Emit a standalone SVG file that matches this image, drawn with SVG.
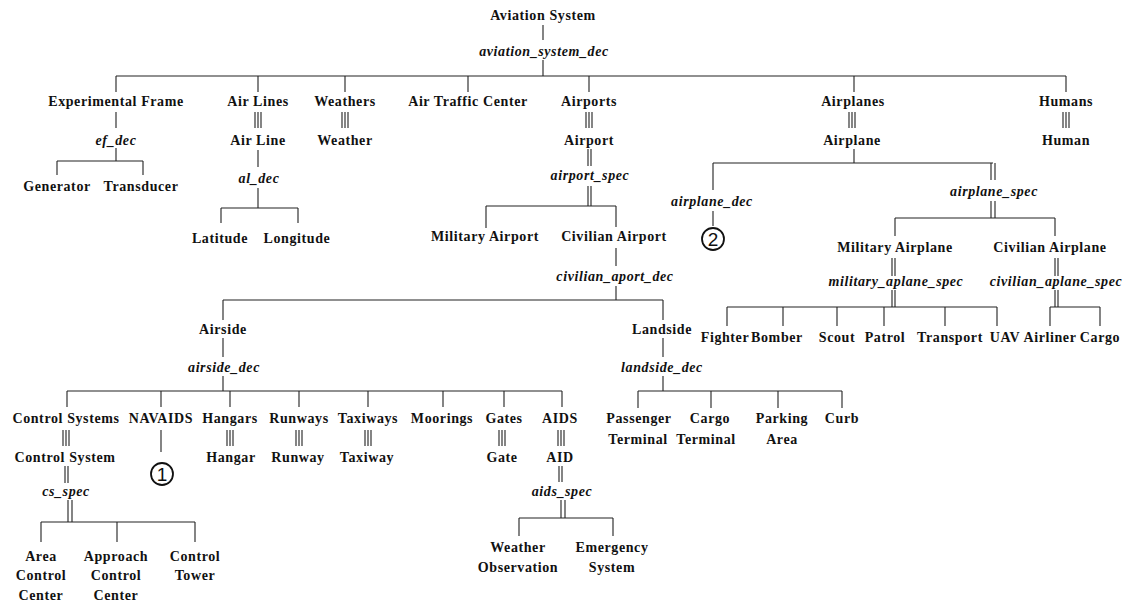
<svg xmlns="http://www.w3.org/2000/svg" width="1132" height="603" viewBox="0 0 1132 603">
<style>
.n{font-weight:bold;font-size:14px;letter-spacing:0.6px;text-anchor:middle;fill:#111}
.d{font-weight:bold;font-style:italic;font-size:14px;letter-spacing:0.6px;text-anchor:middle;fill:#111}
.c{fill:none;stroke:#111;stroke-width:1.8}
.cn{font-size:19px;text-anchor:middle;fill:#111}
#connectors path{fill:none;stroke:#222;stroke-width:1.1}
</style>
<rect width="1132" height="603" fill="#fff"/>
<g id="connectors">
<path d="M543,25V40M543,60V76M116,76H1066M116,76V92M258,76V92M345,76V92M468,76V92M589,76V92M854,76V92M1066,76V92"/>
<path d="M116,112V128M116,148V161M57,161H143M57,161V175M143,161V175"/>
<path d="M255,112V128M258,112V128M261,112V128M258,150V167M258,188V208M221,208H298M221,208V223M298,208V223"/>
<path d="M342,112V128M345,112V128M348,112V128"/>
<path d="M586,112V128M589,112V128M592,112V128M588,149V166M591,149V166M588,186V206M591,186V206M486,206H616M486,206V228M616,206V227"/>
<path d="M616,248V266M616,286V300M223,300H663M223,300V320M663,300V320"/>
<path d="M223,338V357M223,376V391M67,391H562M67,391V407M161,391V407M230,391V407M299,391V407M368,391V407M443,391V407M504,391V407M562,391V407"/>
<path d="M63,430V446M66,430V446M69,430V446M161,430V452"/>
<path d="M227,430V446M230,430V446M233,430V446M296,430V446M299,430V446M302,430V446M365,430V446M368,430V446M371,430V446M499,430V446M502,430V446M505,430V446M558,430V446M561,430V446M564,430V446"/>
<path d="M65,466V483M68,466V483M68,500V522M72,500V522M41,522H195M41,522V542M117,522V542M195,522V542"/>
<path d="M559,466V482M562,466V482M561,500V518M565,500V518M519,518H613M519,518V536M613,518V536"/>
<path d="M663,338V357M663,376V391M638,391H842M638,391V408M711,391V408M778,391V408M842,391V408"/>
<path d="M849,112V128M852,112V128M855,112V128M854,149V163M713,163H993M713,163V190M991,163V180M995,163V180M713,211V226"/>
<path d="M991,201V218M995,201V218M895,218H1055M895,218V236M1055,218V236"/>
<path d="M892,258V276M895,258V276M892,290V307M895,290V307M727,307H997M727,307V326M783,307V326M837,307V326M884,307V326M945,307V326M997,307V326"/>
<path d="M1055,258V276M1058,258V276M1055,290V307M1058,290V307M1050,307H1100M1050,307V326M1100,307V326"/>
<path d="M1063,112V128M1066,112V128M1069,112V128"/>
</g>
<g font-family="Liberation Serif, Times New Roman, serif">
<g id="aviation_system"><text class="n" x="543" y="20">Aviation System</text><text class="d" x="544" y="56">aviation_system_dec</text></g>
<g id="experimental_frame"><text class="n" x="116" y="106">Experimental Frame</text><text class="d" x="116" y="145">ef_dec</text></g>
<g id="generator"><text class="n" x="57" y="191">Generator</text></g>
<g id="transducer"><text class="n" x="141" y="191">Transducer</text></g>
<g id="air_lines"><text class="n" x="258" y="106">Air Lines</text><text class="n" x="258" y="145">Air Line</text><text class="d" x="259" y="183">al_dec</text></g>
<g id="latitude"><text class="n" x="220" y="243">Latitude</text></g>
<g id="longitude"><text class="n" x="297" y="243">Longitude</text></g>
<g id="weathers"><text class="n" x="345" y="106">Weathers</text><text class="n" x="345" y="145">Weather</text></g>
<g id="air_traffic_center"><text class="n" x="468" y="106">Air Traffic Center</text></g>
<g id="airports"><text class="n" x="589" y="106">Airports</text><text class="n" x="589" y="145">Airport</text><text class="d" x="590" y="180">airport_spec</text></g>
<g id="military_airport"><text class="n" x="485" y="241">Military Airport</text></g>
<g id="civilian_airport"><text class="n" x="614" y="241">Civilian Airport</text><text class="d" x="615" y="281">civilian_aport_dec</text></g>
<g id="airside"><text class="n" x="223" y="334">Airside</text><text class="d" x="224" y="372">airside_dec</text></g>
<g id="control_systems"><text class="n" x="66" y="423">Control Systems</text><text class="n" x="65" y="462">Control System</text><text class="d" x="66" y="496">cs_spec</text></g>
<g id="area_control_center"><text class="n" x="41" y="561">Area</text><text class="n" x="41" y="580">Control</text><text class="n" x="41" y="600">Center</text></g>
<g id="approach_control_center"><text class="n" x="116" y="561">Approach</text><text class="n" x="116" y="580">Control</text><text class="n" x="116" y="600">Center</text></g>
<g id="control_tower"><text class="n" x="195" y="561">Control</text><text class="n" x="195" y="580">Tower</text></g>
<g id="navaids"><text class="n" x="161" y="423">NAVAIDS</text><circle class="c" cx="162" cy="474" r="11"/><text class="cn" font-family="Liberation Sans, Arial, sans-serif" x="162" y="481">1</text></g>
<g id="hangars"><text class="n" x="230" y="423">Hangars</text><text class="n" x="231" y="462">Hangar</text></g>
<g id="runways"><text class="n" x="299" y="423">Runways</text><text class="n" x="298" y="462">Runway</text></g>
<g id="taxiways"><text class="n" x="368" y="423">Taxiways</text><text class="n" x="367" y="462">Taxiway</text></g>
<g id="moorings"><text class="n" x="442" y="423">Moorings</text></g>
<g id="gates"><text class="n" x="504" y="423">Gates</text><text class="n" x="502" y="462">Gate</text></g>
<g id="aids"><text class="n" x="560" y="423">AIDS</text><text class="n" x="560" y="462">AID</text><text class="d" x="562" y="496">aids_spec</text></g>
<g id="weather_observation"><text class="n" x="518" y="552">Weather</text><text class="n" x="518" y="572">Observation</text></g>
<g id="emergency_system"><text class="n" x="612" y="552">Emergency</text><text class="n" x="612" y="572">System</text></g>
<g id="landside"><text class="n" x="662" y="334">Landside</text><text class="d" x="662" y="372">landside_dec</text></g>
<g id="passenger_terminal"><text class="n" x="639" y="423">Passenger</text><text class="n" x="638" y="444">Terminal</text></g>
<g id="cargo_terminal"><text class="n" x="710" y="423">Cargo</text><text class="n" x="706" y="444">Terminal</text></g>
<g id="parking_area"><text class="n" x="782" y="423">Parking</text><text class="n" x="782" y="444">Area</text></g>
<g id="curb"><text class="n" x="842" y="423">Curb</text></g>
<g id="airplanes"><text class="n" x="853" y="106">Airplanes</text><text class="n" x="852" y="145">Airplane</text></g>
<g id="airplane_dec"><text class="d" x="712" y="206">airplane_dec</text><circle class="c" cx="713" cy="239" r="11"/><text class="cn" font-family="Liberation Sans, Arial, sans-serif" x="713" y="246">2</text></g>
<g id="airplane_spec"><text class="d" x="994" y="196">airplane_spec</text></g>
<g id="military_airplane"><text class="n" x="895" y="252">Military Airplane</text><text class="d" x="896" y="286">military_aplane_spec</text></g>
<g id="civilian_airplane"><text class="n" x="1050" y="252">Civilian Airplane</text><text class="d" x="1056" y="286">civilian_aplane_spec</text></g>
<g id="fighter"><text class="n" x="725" y="342">Fighter</text></g>
<g id="bomber"><text class="n" x="777" y="342">Bomber</text></g>
<g id="scout"><text class="n" x="837" y="342">Scout</text></g>
<g id="patrol"><text class="n" x="885" y="342">Patrol</text></g>
<g id="transport"><text class="n" x="950" y="342">Transport</text></g>
<g id="uav"><text class="n" x="1005" y="342">UAV</text></g>
<g id="airliner"><text class="n" x="1050" y="342">Airliner</text></g>
<g id="cargo"><text class="n" x="1100" y="342">Cargo</text></g>
<g id="humans"><text class="n" x="1066" y="106">Humans</text><text class="n" x="1066" y="145">Human</text></g>
</g>
</svg>
